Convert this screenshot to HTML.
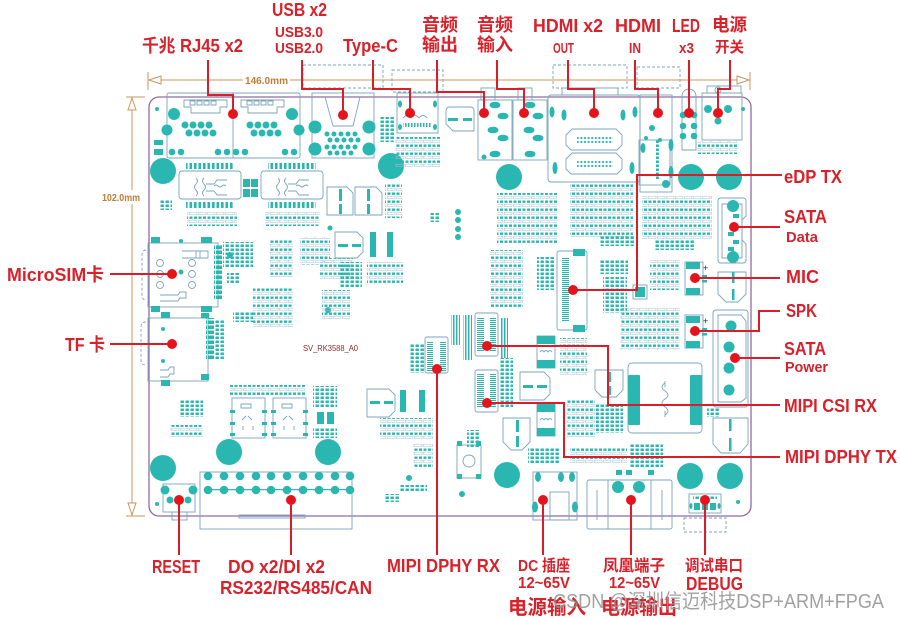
<!DOCTYPE html>
<html><head><meta charset="utf-8"><style>
html,body{margin:0;padding:0;background:#fff;width:900px;height:619px;overflow:hidden}
svg{display:block}
.l{font-family:"Liberation Sans","Noto Sans CJK SC",sans-serif;font-weight:bold;fill:#d7222c}
.d{font-family:"Liberation Sans",sans-serif;font-weight:bold;fill:#c17c35}
</style></head><body>
<svg width="900" height="619" viewBox="0 0 900 619" xmlns="http://www.w3.org/2000/svg">
<defs>
<pattern id="pa" width="9" height="8" patternUnits="userSpaceOnUse">
 <rect x="0.5" y="0.5" width="3" height="2.4" fill="#2ab7b2"/>
 <rect x="5" y="0.5" width="3" height="2.4" fill="#2ab7b2"/>
 <rect x="0.5" y="4.2" width="7.5" height="2.4" fill="none" stroke="#9fc0cf" stroke-width="0.5"/>
</pattern>
<pattern id="pb" width="5" height="4" patternUnits="userSpaceOnUse">
 <rect x="0.5" y="0.5" width="3.4" height="2.5" fill="#2ab7b2"/>
</pattern>
<pattern id="pc" width="10" height="2" patternUnits="userSpaceOnUse">
 <rect x="0" y="0" width="10" height="1" fill="#2ab7b2"/>
</pattern>
<pattern id="pd" width="4.5" height="10" patternUnits="userSpaceOnUse">
 <rect x="0.5" y="0" width="2.6" height="10" fill="#2ab7b2"/>
</pattern>
<pattern id="pe" width="3" height="10" patternUnits="userSpaceOnUse">
 <rect x="0" y="0" width="1.5" height="10" fill="#2ab7b2"/>
</pattern>
<pattern id="pf" width="8" height="5" patternUnits="userSpaceOnUse">
 <rect x="0" y="0.5" width="7" height="3.5" fill="#2ab7b2"/>
</pattern>
<pattern id="pg" width="3.6" height="4" patternUnits="userSpaceOnUse">
 <circle cx="1.8" cy="2" r="1.1" fill="#2ab7b2"/>
</pattern>
</defs>

<!-- dimension lines -->
<g stroke="#c9955c" stroke-width="1" fill="none">
 <line x1="148" y1="80" x2="750" y2="80"/>
 <line x1="148" y1="72" x2="148" y2="90"/>
 <line x1="750" y1="72" x2="750" y2="90"/>
 <path d="M149,80 L161,76 L161,84 Z" fill="#fff"/>
 <path d="M749,80 L737,76 L737,84 Z" fill="#fff"/>
 <line x1="132" y1="97" x2="132" y2="516"/>
 <line x1="126" y1="97" x2="145" y2="97"/>
 <line x1="126" y1="516" x2="145" y2="516"/>
 <path d="M132,98 L128,110 L136,110 Z" fill="#fff"/>
 <path d="M132,515 L128,503 L136,503 Z" fill="#fff"/>
</g>
<rect x="243" y="73" width="47" height="14" fill="#fff"/>
<text class="d" x="245" y="84" font-size="10" textLength="43" lengthAdjust="spacingAndGlyphs">146.0mm</text>
<rect x="100" y="190" width="42" height="14" fill="#fff"/>
<text class="d" x="102" y="201" font-size="10" textLength="38" lengthAdjust="spacingAndGlyphs">102.0mm</text>

<!-- board -->
<rect x="149" y="97" width="602" height="419" rx="10" fill="none" stroke="#8e6aa6" stroke-width="1.3"/>

<!-- outlines -->
<g fill="none" stroke="#7aa6bc" stroke-width="0.9">
 <rect x="167" y="93" width="133" height="65" rx="2"/>
 <line x1="233" y1="93" x2="233" y2="158"/>
 <path d="M184,100 H227 V107 H220 V113 H191 V107 H184 Z"/>
 <path d="M241,100 H284 V107 H277 V113 H248 V107 H241 Z"/>
 <path d="M190,101 h5 v4 h-5 z M197,101 h5 v4 h-5 z M204,101 h5 v4 h-5 z M211,101 h5 v4 h-5 z M247,101 h5 v4 h-5 z M254,101 h5 v4 h-5 z M261,101 h5 v4 h-5 z M268,101 h5 v4 h-5 z"/>
 <rect x="312" y="93" width="62" height="65"/>
 <path d="M325,97 L333,126 M360,97 L353,126 M333,126 H353"/>
 <rect x="303" y="65" width="80" height="23" stroke-dasharray="3,2"/>
 <rect x="397" y="93" width="41" height="40"/>
 <rect x="392" y="70" width="51" height="22" stroke-dasharray="3,2"/>
 <path d="M403,118 q4,-5 8,0 q4,-5 8,0 q4,-5 8,0"/>
 <path d="M450,107 H470 Q474,107 474,111 V131 H453 L446,124 V111 Q446,107 450,107 Z"/>
 <rect x="478" y="100" width="34" height="60"/>
 <rect x="513" y="100" width="34" height="60"/>
 <rect x="481" y="88" width="14" height="12"/>
 <rect x="518" y="88" width="14" height="12"/>
 <rect x="548" y="95" width="92" height="87" rx="3"/>
 <rect x="553" y="65" width="74" height="23" stroke-dasharray="3,2"/>
 <rect x="562" y="88" width="56" height="7"/>
 <path d="M572,129 H616 L622,135 V145 L617,150 H571 L566,145 V135 Z"/>
 <path d="M572,153 H616 L622,159 V169 L617,174 H571 L566,169 V159 Z"/>
 <rect x="640" y="95" width="32" height="97"/>
 <rect x="637" y="67" width="43" height="21" stroke-dasharray="3,2"/>
 <path d="M682,150 V96 A7,7 0 0 1 696,96 V150 Z"/>
 <rect x="702" y="93" width="40" height="47"/>
 <rect x="707" y="86" width="34" height="7"/>
 <circle cx="718" cy="90" r="3"/>
 <rect x="179" y="171" width="62" height="28" rx="3"/>
 <rect x="261" y="171" width="62" height="28" rx="3"/>
 <path d="M196,178 q3,3 0,6 q-3,3 0,6 q3,3 0,6 M204,178 q-3,3 0,6 q3,3 0,6 q-3,3 0,6 M206,184 h8 l3,-4 h10 M206,191 h8 l3,4 h10 M214,186 q2,-2 4,0 q2,2 4,0 q2,-2 4,0"/>
 <path d="M278,178 q3,3 0,6 q-3,3 0,6 q3,3 0,6 M286,178 q-3,3 0,6 q3,3 0,6 q-3,3 0,6 M288,184 h8 l3,-4 h10 M288,191 h8 l3,4 h10 M296,186 q2,-2 4,0 q2,2 4,0 q2,-2 4,0"/>
 <rect x="148" y="243" width="70" height="64"/>
 <path d="M146,250 q-4,0 -4,5 v40 q0,5 4,5" stroke-dasharray="3,2"/>
 <path d="M182,251 H208 V258 H182 M196,251 V258 M200,251 V258"/>
 <path d="M160,295 H178 L180,292 H186 V298 H180 L178,301 H160"/>
 <circle cx="160" cy="263" r="3.5"/><circle cx="160" cy="274" r="3.5"/><circle cx="160" cy="285" r="3.5"/>
 <circle cx="192" cy="263" r="3.5"/><circle cx="192" cy="274" r="3.5"/><circle cx="192" cy="285" r="3.5"/>
 <rect x="148" y="318" width="60" height="63"/>
 <path d="M146,322 q-5,0 -5,5 v33 q0,5 5,5" stroke-dasharray="3,2"/>
 <path d="M160,370 H168 L170,367 H174 V374 H170 L168,377 H160"/>
 <rect x="163" y="484" width="32" height="28"/>
 <rect x="172" y="512" width="15" height="8"/>
 <rect x="200" y="472" width="152" height="57"/>
 <rect x="239" y="515" width="66" height="3"/>
 <rect x="232" y="398" width="33" height="40"/>
 <rect x="273" y="398" width="33" height="40"/>
 <path d="M241,404 h10 v4 h-10 z M282,404 h10 v4 h-10 z M242,420 l4,-4 M252,420 l-4,-4 M283,420 l4,-4 M293,420 l-4,-4 M243,430 v-4 M253,430 v-4 M284,430 v-4 M294,430 v-4"/>
 <rect x="457" y="445" width="24" height="33"/>
 <circle cx="469" cy="461" r="6"/>
 <rect x="533" y="472" width="44" height="48"/>
 <rect x="550" y="492" width="19" height="28"/>
 <rect x="587" y="480" width="85" height="49" rx="2"/>
 <line x1="608" y1="480" x2="608" y2="529"/>
 <line x1="651" y1="480" x2="651" y2="529"/>
 <line x1="597" y1="490" x2="597" y2="520"/>
 <line x1="662" y1="490" x2="662" y2="520"/>
 <rect x="689" y="494" width="32" height="19"/>
 <rect x="684" y="518" width="42" height="14" stroke-dasharray="3,2"/>
 <rect x="628" y="363" width="74" height="70" rx="4"/>
 <path d="M665,383 q-6,4 0,8 q6,4 0,8 q-6,4 0,8 q6,4 0,8 M665,387 v-6 M665,411 v6"/>
 <rect x="713" y="310" width="35" height="97" rx="3"/>
 <path d="M718,315 H741 L746,321 V398 L741,402 H718 Z"/>
 <path d="M718,201 Q718,198 721,198 H743 Q746,198 746,201 V216 L742,220 V240 L746,244 V260 Q746,263 743,263 H721 Q718,263 718,260 Z"/>
 <path d="M722,204 H742 V258 H722 Z"/>
 <path d="M718,272 H746 V294 L738,302 H726 L718,294 Z"/>
 <path d="M713,418 H748 V444 L740,453 H721 L713,444 Z"/>
 <path d="M327,187 H347 L353,193 V215 H327 Z"/>
 <path d="M355,187 H376 L382,193 V215 H355 Z"/>
 <path d="M335,232 H357 L363,238 V252 L357,258 H335 Z"/>
 <path d="M367,389 H389 L395,395 V411 L389,417 H367 Z"/>
 <path d="M520,372 H544 L550,378 V394 L544,400 H520 Z"/>
 <path d="M503,418 H530 V442 L522,450 H511 L503,442 Z"/>
 <path d="M595,370 H623 V390 L616,397 H602 L595,390 Z"/>
 <rect x="557" y="251" width="30" height="79" rx="2"/>
 <rect x="475" y="313" width="23" height="43" rx="2"/>
 <rect x="475" y="370" width="23" height="42" rx="2"/>
 <rect x="425" y="337" width="23" height="36" rx="2"/>
 <rect x="685" y="262" width="18" height="33"/>
 <rect x="685" y="315" width="18" height="33"/>
 <rect x="639" y="140" width="31" height="45"/>
 <rect x="537" y="336" width="18" height="32"/>
 <rect x="537" y="404" width="18" height="32"/>
 <path d="M540,352 q2,-3 4,0 q2,-3 4,0 q2,-3 4,0 M540,420 q2,-3 4,0 q2,-3 4,0 q2,-3 4,0"/>
 <rect x="633" y="285" width="14" height="14"/>
</g>

<!-- teal fills -->
<g fill="#2ab7b2">
 <circle cx="163" cy="171" r="13"/><circle cx="391" cy="166" r="13"/><circle cx="509" cy="177" r="13"/>
 <circle cx="691" cy="177" r="13"/><circle cx="729" cy="177" r="13"/><circle cx="229" cy="452" r="13"/>
 <circle cx="328" cy="452" r="13"/><circle cx="163" cy="468" r="13"/><circle cx="507" cy="475" r="13"/>
 <circle cx="690" cy="476" r="13"/><circle cx="730" cy="476" r="13"/>
 <circle cx="174" cy="114" r="6"/><circle cx="167" cy="130" r="5.5"/><circle cx="292" cy="114" r="6"/><circle cx="299" cy="130" r="5.5"/>
 <circle cx="185" cy="125" r="3.5"/><circle cx="193" cy="125" r="3.5"/><circle cx="201" cy="125" r="3.5"/><circle cx="209" cy="125" r="3.5"/>
 <circle cx="189" cy="133" r="3.5"/><circle cx="197" cy="133" r="3.5"/><circle cx="205" cy="133" r="3.5"/><circle cx="213" cy="133" r="3.5"/>
 <circle cx="250" cy="125" r="3.5"/><circle cx="258" cy="125" r="3.5"/><circle cx="266" cy="125" r="3.5"/><circle cx="274" cy="125" r="3.5"/>
 <circle cx="254" cy="133" r="3.5"/><circle cx="262" cy="133" r="3.5"/><circle cx="270" cy="133" r="3.5"/><circle cx="278" cy="133" r="3.5"/>
 <circle cx="172" cy="152" r="3.3"/><circle cx="181" cy="152" r="3.3"/><circle cx="218" cy="152" r="3.3"/><circle cx="227" cy="152" r="3.3"/>
 <circle cx="236" cy="152" r="3.3"/><circle cx="245" cy="152" r="3.3"/><circle cx="285" cy="152" r="3.3"/><circle cx="294" cy="152" r="3.3"/>
 <rect x="154" y="140" width="9" height="5"/><rect x="154" y="149" width="9" height="6"/>
 <circle cx="157" cy="109" r="2"/>
 <circle cx="315" cy="127" r="6.5"/><circle cx="369" cy="127" r="6.5"/><circle cx="315" cy="149" r="6.5"/><circle cx="369" cy="149" r="6.5"/>
 <circle cx="327" cy="134" r="2.5"/><circle cx="334" cy="134" r="2.5"/><circle cx="341" cy="134" r="2.5"/><circle cx="348" cy="134" r="2.5"/><circle cx="355" cy="134" r="2.5"/>
 <circle cx="330" cy="140" r="2.5"/><circle cx="337" cy="140" r="2.5"/><circle cx="344" cy="140" r="2.5"/><circle cx="351" cy="140" r="2.5"/><circle cx="358" cy="140" r="2.5"/>
 <circle cx="327" cy="147" r="2.5"/><circle cx="334" cy="147" r="2.5"/><circle cx="341" cy="147" r="2.5"/><circle cx="348" cy="147" r="2.5"/><circle cx="355" cy="147" r="2.5"/>
 <circle cx="330" cy="153" r="2.5"/><circle cx="337" cy="153" r="2.5"/><circle cx="344" cy="153" r="2.5"/><circle cx="351" cy="153" r="2.5"/>
 <ellipse cx="400" cy="104" rx="2" ry="3.5"/><ellipse cx="435" cy="104" rx="2" ry="3.5"/>
 <ellipse cx="400" cy="127" rx="2" ry="3"/><ellipse cx="435" cy="127" rx="2" ry="3"/>
 <rect x="403" y="123" width="28" height="4" fill="url(#pe)"/>
 <rect x="448" y="118" width="10" height="3"/><rect x="463" y="118" width="9" height="3"/>
 <ellipse cx="495" cy="105" rx="5.5" ry="3.3"/><ellipse cx="503" cy="116" rx="5.5" ry="3.3"/><ellipse cx="493" cy="130" rx="5.5" ry="3.3"/><ellipse cx="503" cy="138" rx="5.5" ry="3.3"/><ellipse cx="495" cy="154" rx="5.5" ry="3.3"/>
 <ellipse cx="530" cy="105" rx="5.5" ry="3.3"/><ellipse cx="538" cy="116" rx="5.5" ry="3.3"/><ellipse cx="529" cy="130" rx="5.5" ry="3.3"/><ellipse cx="538" cy="138" rx="5.5" ry="3.3"/><ellipse cx="530" cy="154" rx="5.5" ry="3.3"/>
 <ellipse cx="552" cy="112" rx="2.5" ry="5.5"/><ellipse cx="564" cy="115" rx="2.5" ry="5.5"/><ellipse cx="623" cy="115" rx="2.5" ry="5.5"/><ellipse cx="635" cy="112" rx="2.5" ry="5.5"/>
 <ellipse cx="555" cy="168" rx="2.5" ry="6"/><ellipse cx="632" cy="168" rx="2.5" ry="6"/>
 <rect x="577" y="135" width="36" height="8" fill="url(#pg)"/>
 <rect x="577" y="159" width="36" height="8" fill="url(#pg)"/>
 <circle cx="652" cy="128" r="3"/><circle cx="646" cy="138" r="2"/><circle cx="660" cy="140" r="2"/>
 <ellipse cx="671" cy="145" rx="2.5" ry="6"/><ellipse cx="671" cy="172" rx="2.5" ry="6"/><ellipse cx="643" cy="148" rx="2.5" ry="5"/>
 <circle cx="666" cy="184" r="4"/>
 <rect x="656" y="140" width="4" height="40" fill="url(#pb)"/>
 <circle cx="683" cy="115" r="3.3"/><circle cx="694" cy="115" r="3.3"/><circle cx="683" cy="126" r="3.3"/><circle cx="694" cy="126" r="3.3"/><circle cx="683" cy="136" r="3.3"/><circle cx="694" cy="136" r="3.3"/>
 <circle cx="708" cy="109" r="4"/><circle cx="728" cy="109" r="4"/><circle cx="718" cy="121" r="3.5"/><circle cx="743" cy="109" r="2"/>
 <rect x="186" y="163" width="48" height="6" fill="url(#pd)"/><rect x="186" y="202" width="48" height="6" fill="url(#pd)"/>
 <rect x="268" y="163" width="48" height="6" fill="url(#pd)"/><rect x="268" y="202" width="48" height="6" fill="url(#pd)"/>
 <rect x="243" y="179" width="7" height="8"/><rect x="251" y="179" width="7" height="8"/><rect x="243" y="189" width="7" height="8"/><rect x="251" y="189" width="7" height="8"/>
 <rect x="151" y="237" width="9" height="6"/><rect x="201" y="237" width="11" height="6"/>
 <rect x="151" y="306" width="9" height="6"/><rect x="201" y="306" width="11" height="6"/>
 <circle cx="181" cy="241" r="2"/><circle cx="181" cy="272" r="2.5"/>
 <rect x="161" y="312" width="9" height="6"/><rect x="201" y="313" width="8" height="5"/>
 <rect x="161" y="380" width="9" height="6"/><rect x="201" y="374" width="8" height="6"/>
 <circle cx="163" cy="329" r="2"/><circle cx="163" cy="361" r="2"/>
 <circle cx="165" cy="490" r="4.5"/><circle cx="193" cy="490" r="4.5"/><circle cx="170" cy="500" r="3.5"/><circle cx="188" cy="500" r="3.5"/>
 <circle cx="157" cy="504" r="2"/>
 <circle cx="208" cy="476" r="4.3"/><circle cx="224" cy="476" r="4.3"/><circle cx="240" cy="476" r="4.3"/><circle cx="256" cy="476" r="4.3"/><circle cx="271" cy="476" r="4.3"/><circle cx="287" cy="476" r="4.3"/><circle cx="303" cy="476" r="4.3"/><circle cx="319" cy="476" r="4.3"/><circle cx="335" cy="476" r="4.3"/><circle cx="350" cy="476" r="4.3"/>
 <circle cx="208" cy="490" r="4.3"/><circle cx="224" cy="490" r="4.3"/><circle cx="240" cy="490" r="4.3"/><circle cx="256" cy="490" r="4.3"/><circle cx="271" cy="490" r="4.3"/><circle cx="287" cy="490" r="4.3"/><circle cx="303" cy="490" r="4.3"/><circle cx="319" cy="490" r="4.3"/><circle cx="335" cy="490" r="4.3"/><circle cx="350" cy="490" r="4.3"/>
 <rect x="208" y="489" width="142" height="1.2"/>
 <rect x="230" y="410" width="5" height="3"/><rect x="262" y="410" width="5" height="3"/><rect x="230" y="422" width="5" height="3"/><rect x="262" y="422" width="5" height="3"/><rect x="230" y="433" width="5" height="3"/><rect x="262" y="433" width="5" height="3"/>
 <rect x="271" y="410" width="5" height="3"/><rect x="303" y="410" width="5" height="3"/><rect x="271" y="422" width="5" height="3"/><rect x="303" y="422" width="5" height="3"/><rect x="271" y="433" width="5" height="3"/><rect x="303" y="433" width="5" height="3"/>
 <rect x="317" y="412" width="7" height="12"/><rect x="327" y="412" width="7" height="12"/>
 <rect x="457" y="441" width="5" height="5"/><rect x="476" y="441" width="5" height="5"/><rect x="457" y="474" width="5" height="5"/><rect x="476" y="474" width="5" height="5"/>
 <circle cx="462" cy="494" r="3"/>
 <ellipse cx="538" cy="477" rx="3" ry="5"/><ellipse cx="561" cy="477" rx="3" ry="5"/><ellipse cx="572" cy="477" rx="3" ry="5"/>
 <ellipse cx="535" cy="507" rx="3" ry="5.5"/><ellipse cx="575" cy="507" rx="3" ry="5.5"/>
 <circle cx="618" cy="487" r="6"/><circle cx="639" cy="487" r="6"/>
 <rect x="616" y="470" width="6" height="5"/><rect x="626" y="470" width="6" height="5"/><rect x="648" y="470" width="6" height="5"/>
 <rect x="694" y="503" width="6" height="7"/><rect x="702" y="503" width="6" height="7"/><rect x="710" y="503" width="6" height="7"/>
 <ellipse cx="691" cy="506" rx="1.5" ry="3"/><ellipse cx="719" cy="506" rx="1.5" ry="3"/>
 <rect x="693" y="496" width="24" height="3" fill="url(#pb)"/>
 <circle cx="738" cy="502" r="2"/>
 <rect x="628" y="375" width="12" height="50" rx="1"/><rect x="690" y="375" width="12" height="50" rx="1"/>
 <circle cx="731" cy="326" r="5.5"/><circle cx="729" cy="347" r="5.5"/><circle cx="729" cy="368" r="5.5"/><circle cx="729" cy="390" r="5.5"/>
 <circle cx="733" cy="206" r="6"/><circle cx="733" cy="257" r="6"/>
 <rect x="733" y="214" width="6" height="4"/><rect x="728" y="232" width="6" height="4"/><rect x="733" y="240" width="6" height="4"/><rect x="728" y="247" width="6" height="4"/>
 <rect x="732" y="272" width="2.5" height="11"/><rect x="732" y="289" width="2.5" height="11"/>
 <rect x="729" y="419" width="2.5" height="12"/><rect x="729" y="438" width="2.5" height="13"/>
 <rect x="686" y="262" width="14" height="7"/><rect x="686" y="288" width="14" height="7"/>
 <rect x="686" y="316" width="14" height="7"/><rect x="686" y="341" width="14" height="7"/>
 <rect x="702" y="275" width="5" height="2.5"/><rect x="702" y="280" width="5" height="2.5"/>
 <rect x="702" y="328" width="5" height="2.5"/><rect x="702" y="333" width="5" height="2.5"/>
 <rect x="339" y="189" width="3" height="12"/><rect x="339" y="204" width="3" height="10"/>
 <rect x="367" y="189" width="3" height="12"/><rect x="367" y="204" width="3" height="10"/>
 <rect x="338" y="244" width="10" height="3"/><rect x="352" y="244" width="9" height="3"/>
 <rect x="370" y="232" width="6" height="25"/><rect x="387" y="232" width="6" height="25"/>
 <rect x="370" y="401" width="10" height="3"/><rect x="384" y="401" width="9" height="3"/>
 <rect x="400" y="390" width="6" height="22"/><rect x="419" y="390" width="6" height="22"/>
 <rect x="523" y="385" width="10" height="3"/><rect x="537" y="385" width="10" height="3"/>
 <rect x="516" y="420" width="3" height="12"/><rect x="516" y="436" width="3" height="11"/>
 <rect x="608" y="372" width="3" height="10"/><rect x="608" y="386" width="3" height="9"/>
 <rect x="537" y="336" width="18" height="8"/><rect x="537" y="360" width="18" height="8"/>
 <rect x="537" y="404" width="18" height="8"/><rect x="537" y="428" width="18" height="8"/>
 <rect x="573" y="249" width="12" height="7"/><rect x="573" y="325" width="12" height="7"/>
 <rect x="562" y="258" width="7" height="64" fill="url(#pc)"/>
 <rect x="477" y="318" width="7" height="34" fill="url(#pc)"/><rect x="490" y="318" width="6" height="34" fill="url(#pc)"/>
 <rect x="477" y="374" width="7" height="34" fill="url(#pc)"/><rect x="490" y="374" width="6" height="34" fill="url(#pc)"/>
 <rect x="427" y="341" width="6" height="30" fill="url(#pc)"/><rect x="440" y="341" width="6" height="30" fill="url(#pc)"/>
 <rect x="463" y="315" width="9" height="45" fill="url(#pe)"/>
 <rect x="451" y="315" width="9" height="30" fill="url(#pe)"/>
 <rect x="500" y="318" width="8" height="40" fill="url(#pe)"/>
 <rect x="635" y="287" width="10" height="10"/>
 <circle cx="458" cy="212" r="3"/><circle cx="458" cy="220" r="3"/><circle cx="458" cy="229" r="3"/><circle cx="458" cy="237" r="3"/>
 <circle cx="484" cy="157" r="2.5"/>
 <circle cx="230" cy="255" r="3"/><circle cx="328" cy="310" r="3"/><circle cx="330" cy="228" r="2.5"/>
 <circle cx="409" cy="478" r="3"/>
 <rect x="214" y="245" width="8" height="55" fill="url(#pf)"/>
 <rect x="206" y="318" width="8" height="42" fill="url(#pf)"/>
</g>

<!-- SMD clusters -->
<g>
 <rect x="187" y="212" width="50" height="14" fill="url(#pa)"/>
 <rect x="265" y="212" width="55" height="14" fill="url(#pa)"/>
 <rect x="160" y="200" width="12" height="10" fill="url(#pb)"/>
 <rect x="223" y="242" width="30" height="25" fill="url(#pb)"/>
 <rect x="227" y="273" width="13" height="10" fill="url(#pb)"/>
 <rect x="270" y="240" width="23" height="37" fill="url(#pa)"/>
 <rect x="300" y="237" width="30" height="28" fill="url(#pa)"/>
 <rect x="253" y="287" width="40" height="40" fill="url(#pa)"/>
 <rect x="233" y="312" width="20" height="10" fill="url(#pb)"/>
 <rect x="214" y="320" width="10" height="40" fill="url(#pb)"/>
 <rect x="180" y="400" width="23" height="17" fill="url(#pb)"/>
 <rect x="170" y="425" width="33" height="12" fill="url(#pa)"/>
 <rect x="230" y="385" width="75" height="10" fill="url(#pa)"/>
 <rect x="313" y="386" width="24" height="22" fill="url(#pb)"/>
 <rect x="313" y="428" width="24" height="10" fill="url(#pb)"/>
 <rect x="320" y="258" width="33" height="22" fill="url(#pa)"/>
 <rect x="322" y="290" width="28" height="30" fill="url(#pa)"/>
 <rect x="367" y="262" width="36" height="22" fill="url(#pa)"/>
 <rect x="340" y="262" width="22" height="26" fill="url(#pb)"/>
 <rect x="380" y="117" width="15" height="25" fill="url(#pb)"/>
 <rect x="395" y="137" width="45" height="30" fill="url(#pa)"/>
 <rect x="385" y="183" width="17" height="35" fill="url(#pa)"/>
 <rect x="430" y="213" width="10" height="9" fill="url(#pb)"/>
 <rect x="497" y="193" width="60" height="50" fill="url(#pa)"/>
 <rect x="570" y="183" width="63" height="54" fill="url(#pa)"/>
 <rect x="642" y="196" width="70" height="44" fill="url(#pa)"/>
 <rect x="697" y="141" width="40" height="13" fill="url(#pa)"/>
 <rect x="490" y="250" width="33" height="58" fill="url(#pa)"/>
 <rect x="537" y="257" width="18" height="33" fill="url(#pb)"/>
 <rect x="603" y="277" width="24" height="36" fill="url(#pb)"/>
 <rect x="650" y="260" width="30" height="30" fill="url(#pa)"/>
 <rect x="600" y="260" width="28" height="14" fill="url(#pb)"/>
 <rect x="620" y="307" width="60" height="43" fill="url(#pa)"/>
 <rect x="560" y="338" width="27" height="38" fill="url(#pa)"/>
 <rect x="567" y="400" width="28" height="37" fill="url(#pa)"/>
 <rect x="596" y="403" width="27" height="30" fill="url(#pb)"/>
 <rect x="500" y="358" width="13" height="50" fill="url(#pb)"/>
 <rect x="467" y="430" width="13" height="17" fill="url(#pb)"/>
 <rect x="528" y="448" width="32" height="15" fill="url(#pb)"/>
 <rect x="570" y="447" width="57" height="16" fill="url(#pa)"/>
 <rect x="630" y="443" width="33" height="24" fill="url(#pb)"/>
 <rect x="707" y="407" width="13" height="10" fill="url(#pb)"/>
 <rect x="410" y="343" width="14" height="30" fill="url(#pb)"/>
 <rect x="380" y="418" width="53" height="22" fill="url(#pa)"/>
 <rect x="413" y="443" width="20" height="24" fill="url(#pa)"/>
 <rect x="400" y="485" width="27" height="7" fill="url(#pb)"/>
 <rect x="385" y="494" width="15" height="8" fill="url(#pb)"/>
 <rect x="600" y="236" width="35" height="10" fill="url(#pb)"/>
 <rect x="655" y="240" width="40" height="10" fill="url(#pb)"/>
</g>

<text x="303" y="351" font-family="Liberation Sans,sans-serif" font-size="8" fill="#8b2a2a" textLength="55" lengthAdjust="spacingAndGlyphs">SV_RK3588_A0</text>
<text x="703" y="271" font-family="Liberation Sans,sans-serif" font-size="9" fill="#222">+</text>
<text x="703" y="324" font-family="Liberation Sans,sans-serif" font-size="9" fill="#222">+</text>

<!-- red leaders -->
<g fill="none" stroke="#d91e2a" stroke-width="2">
 <path d="M208,60 V95 H233 V114"/>
 <path d="M302,60 V89 H343 V115"/>
 <path d="M373,60 V89 H410 V113"/>
 <path d="M437,60 V92 H484 V113"/>
 <path d="M497,60 V89 H524 V113"/>
 <path d="M568,60 V89 H594 V113"/>
 <path d="M635,60 V89 H658 V113"/>
 <path d="M689,60 V113"/>
 <path d="M730,60 V89 H718 V113"/>
 <path d="M110,274 H172"/>
 <path d="M110,344 H172"/>
 <path d="M782,175 H637 V290 H573"/>
 <path d="M734,227 H780"/>
 <path d="M695,278 H780"/>
 <path d="M695,331 H759 V311 H780"/>
 <path d="M735,358 H780"/>
 <path d="M487,346 H608 V405 H780"/>
 <path d="M487,403 H564 V457 H780"/>
 <path d="M179,500 V555"/>
 <path d="M291,500 V555"/>
 <path d="M437,369 V555"/>
 <path d="M543,500 V555"/>
 <path d="M631,500 V555"/>
 <path d="M705,500 V555"/>
</g>
<g fill="#e3141c">
 <circle cx="233" cy="114" r="5"/><circle cx="343" cy="115" r="5"/><circle cx="410" cy="113" r="5"/>
 <circle cx="484" cy="113" r="5"/><circle cx="524" cy="113" r="5"/><circle cx="594" cy="113" r="5"/>
 <circle cx="658" cy="113" r="5"/><circle cx="689" cy="113" r="5"/><circle cx="718" cy="113" r="5"/>
 <circle cx="172" cy="274" r="5"/><circle cx="172" cy="344" r="5"/>
 <circle cx="573" cy="290" r="5"/><circle cx="734" cy="227" r="5"/><circle cx="695" cy="278" r="5"/>
 <circle cx="695" cy="331" r="5"/><circle cx="735" cy="358" r="5"/><circle cx="487" cy="346" r="5"/>
 <circle cx="487" cy="403" r="5"/>
 <circle cx="179" cy="500" r="5"/><circle cx="291" cy="500" r="5"/><circle cx="437" cy="369" r="5"/>
 <circle cx="543" cy="500" r="5"/><circle cx="631" cy="500" r="5"/><circle cx="705" cy="500" r="5"/>
</g>

<!-- labels -->
<g class="l" font-size="18">
 <text x="142" y="52" textLength="101" lengthAdjust="spacingAndGlyphs">千兆 RJ45 x2</text>
 <text x="272" y="16" textLength="55" lengthAdjust="spacingAndGlyphs">USB x2</text>
 <text x="275" y="37" font-size="15" textLength="48" lengthAdjust="spacingAndGlyphs">USB3.0</text>
 <text x="275" y="53" font-size="15" textLength="48" lengthAdjust="spacingAndGlyphs">USB2.0</text>
 <text x="343" y="52" textLength="55" lengthAdjust="spacingAndGlyphs">Type-C</text>
 <text x="422" y="31" textLength="36" lengthAdjust="spacingAndGlyphs">音频</text>
 <text x="422" y="51" textLength="36" lengthAdjust="spacingAndGlyphs">输出</text>
 <text x="477" y="31" textLength="36" lengthAdjust="spacingAndGlyphs">音频</text>
 <text x="477" y="51" textLength="36" lengthAdjust="spacingAndGlyphs">输入</text>
 <text x="533" y="32" textLength="70" lengthAdjust="spacingAndGlyphs">HDMI x2</text>
 <text x="553" y="53" font-size="15" textLength="21" lengthAdjust="spacingAndGlyphs">OUT</text>
 <text x="615" y="32" textLength="46" lengthAdjust="spacingAndGlyphs">HDMI</text>
 <text x="629" y="53" font-size="15" textLength="12" lengthAdjust="spacingAndGlyphs">IN</text>
 <text x="672" y="32" textLength="28" lengthAdjust="spacingAndGlyphs">LED</text>
 <text x="679" y="53" font-size="15" textLength="15" lengthAdjust="spacingAndGlyphs">x3</text>
 <text x="712" y="31" textLength="35" lengthAdjust="spacingAndGlyphs">电源</text>
 <text x="715" y="52" font-size="15" textLength="29" lengthAdjust="spacingAndGlyphs">开关</text>

 <text x="7" y="281" textLength="97" lengthAdjust="spacingAndGlyphs">MicroSIM卡</text>
 <text x="65" y="351" textLength="40" lengthAdjust="spacingAndGlyphs">TF 卡</text>

 <text x="784" y="183" textLength="58" lengthAdjust="spacingAndGlyphs">eDP TX</text>
 <text x="784" y="223" textLength="43" lengthAdjust="spacingAndGlyphs">SATA</text>
 <text x="786" y="242" font-size="15" textLength="32" lengthAdjust="spacingAndGlyphs">Data</text>
 <text x="786" y="283" textLength="33" lengthAdjust="spacingAndGlyphs">MIC</text>
 <text x="786" y="317" textLength="31" lengthAdjust="spacingAndGlyphs">SPK</text>
 <text x="784" y="355" textLength="42" lengthAdjust="spacingAndGlyphs">SATA</text>
 <text x="785" y="372" font-size="15" textLength="43" lengthAdjust="spacingAndGlyphs">Power</text>
 <text x="784" y="412" textLength="93" lengthAdjust="spacingAndGlyphs">MIPI CSI RX</text>
 <text x="785" y="463" textLength="112" lengthAdjust="spacingAndGlyphs">MIPI DPHY TX</text>

 <text x="152" y="573" textLength="48" lengthAdjust="spacingAndGlyphs">RESET</text>
 <text x="228" y="573" textLength="97" lengthAdjust="spacingAndGlyphs">DO x2/DI x2</text>
 <text x="220" y="594" textLength="152" lengthAdjust="spacingAndGlyphs">RS232/RS485/CAN</text>
 <text x="387" y="572" textLength="113" lengthAdjust="spacingAndGlyphs">MIPI DPHY RX</text>
 <text x="518" y="571" font-size="16" textLength="52" lengthAdjust="spacingAndGlyphs">DC 插座</text>
 <text x="518" y="588" font-size="16" textLength="52" lengthAdjust="spacingAndGlyphs">12~65V</text>
 <text x="603" y="571" font-size="16" textLength="62" lengthAdjust="spacingAndGlyphs">凤凰端子</text>
 <text x="609" y="588" font-size="16" textLength="51" lengthAdjust="spacingAndGlyphs">12~65V</text>
 <text x="685" y="571" font-size="16" textLength="58" lengthAdjust="spacingAndGlyphs">调试串口</text>
 <text x="686" y="590" textLength="57" lengthAdjust="spacingAndGlyphs">DEBUG</text>
 <text x="508" y="614" font-size="20" textLength="78" lengthAdjust="spacingAndGlyphs">电源输入</text>
 <text x="601" y="614" font-size="20" textLength="76" lengthAdjust="spacingAndGlyphs">电源输出</text>
</g>
<text x="553" y="608" font-family="Liberation Sans,'Noto Sans CJK SC',sans-serif" font-size="20" fill="#8f8f8f" fill-opacity="0.85" textLength="331" lengthAdjust="spacingAndGlyphs">CSDN @深圳信迈科技DSP+ARM+FPGA</text>
</svg>
</body></html>
